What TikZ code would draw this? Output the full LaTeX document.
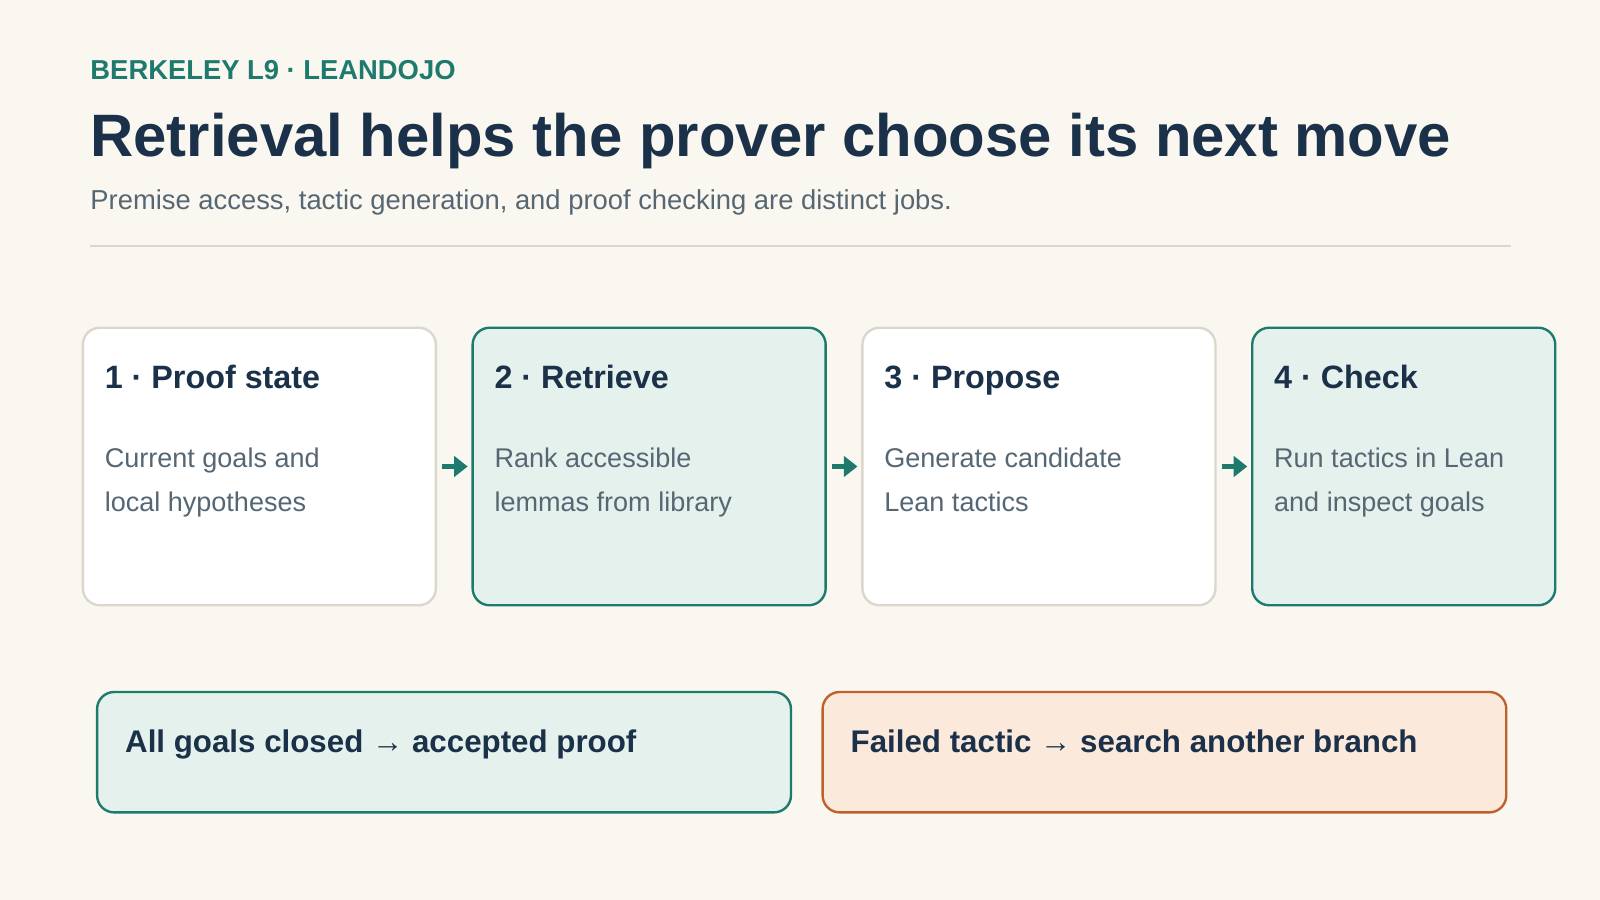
\documentclass[tikz,border=0pt]{standalone}
\usepackage{fontspec}
\setmainfont{Liberation Sans}
\newfontfamily\symfont{DejaVu Sans}
\usetikzlibrary{positioning,arrows.meta}
\definecolor{bgc}{HTML}{FAF7F1}
\definecolor{navy}{HTML}{1B3149}
\definecolor{teal}{HTML}{1F7A6E}
\definecolor{greytext}{HTML}{566774}
\definecolor{rulec}{HTML}{DCD7CC}
\definecolor{tealfill}{HTML}{E5F1EC}
\definecolor{orangeln}{HTML}{C0602A}
\definecolor{orangefill}{HTML}{FBEADB}
\tikzset{
  stagebox/.style={draw=rulec, line width=0.7pt, fill=white, rounded corners=5pt, anchor=north west, minimum width=103.8pt, minimum height=81.6pt, inner sep=0pt},
  stageteal/.style={stagebox, draw=teal, fill=tealfill},
  stagetitle/.style={anchor=base west, inner sep=0pt, text=navy, font=\fontsize{9.5}{11}\selectfont\bfseries},
  stagebody/.style={anchor=north west, inner sep=0pt, text=greytext, align=left, font=\fontsize{7.95}{12.9}\selectfont},
  outcome/.style={draw=teal, fill=tealfill, line width=0.7pt, rounded corners=5pt, anchor=north west, minimum height=35.4pt, inner sep=0pt},
  outtext/.style={anchor=base west, inner sep=0pt, text=navy, font=\fontsize{9.2}{10}\selectfont\bfseries},
  flow/.style={-{Triangle[length=4pt,width=6pt]}, teal, line width=1.6pt}
}
\begin{document}
\begin{tikzpicture}[x=0.3pt,y=-0.3pt]
\fill [bgc] (0,0) rectangle (1568,882);
% header
\node [anchor=base west, inner sep=0pt, text=teal, font=\fontsize{8.05}{9}\selectfont\bfseries] (kicker) at (88,78) {BERKELEY L9 · LEANDOJO};
\node [anchor=base west, inner sep=0pt, text=navy, font=\fontsize{17.6}{22}\selectfont\bfseries] (title) at (88,153) {Retrieval helps the prover choose its next move};
\node [anchor=base west, inner sep=0pt, text=greytext, font=\fontsize{8.05}{9}\selectfont] (subtitle) at (88,205) {Premise access, tactic generation, and proof checking are distinct jobs.};
\draw [rulec, line width=0.8pt] (88,241) -- (1481,241);
% stages
\node [stagebox] (state) at (80,320) {};
\node [stageteal] (retrieve) at (462,320) {};
\node [stagebox] (propose) at (844,320) {};
\node [stageteal, minimum width=89.1pt] (check) at (1226,320) {};
\node [stagetitle] (stateT) at (102,381) {1 · Proof state};
\node [stagetitle] (retrieveT) at (484,381) {2 · Retrieve};
\node [stagetitle] (proposeT) at (866,381) {3 · Propose};
\node [stagetitle] (checkT) at (1248,381) {4 · Check};
\node [stagebody] (stateB) at (102,438) {Current goals and\\local hypotheses};
\node [stagebody] (retrieveB) at (484,438) {Rank accessible\\lemmas from library};
\node [stagebody] (proposeB) at (866,438) {Generate candidate\\Lean tactics};
\node [stagebody] (checkB) at (1248,438) {Run tactics in Lean\\and inspect goals};
\draw [flow] ([xshift=1.5pt]state.east) -- ([xshift=9pt]state.east);
\draw [flow] ([xshift=1.5pt]retrieve.east) -- ([xshift=9pt]retrieve.east);
\draw [flow] ([xshift=1.5pt]propose.east) -- ([xshift=9pt]propose.east);
% outcomes
\node [outcome, minimum width=204pt] (accept) at (94,677) {};
\node [outcome, minimum width=201pt, draw=orangeln, fill=orangefill] (branch) at (805,677) {};
\node [outtext] (acceptT) at (122,737) {All goals closed {\mdseries →} accepted proof};
\node [outtext] (branchT) at (833,737) {Failed tactic {\mdseries →} search another branch};
\end{tikzpicture}
\end{document}
